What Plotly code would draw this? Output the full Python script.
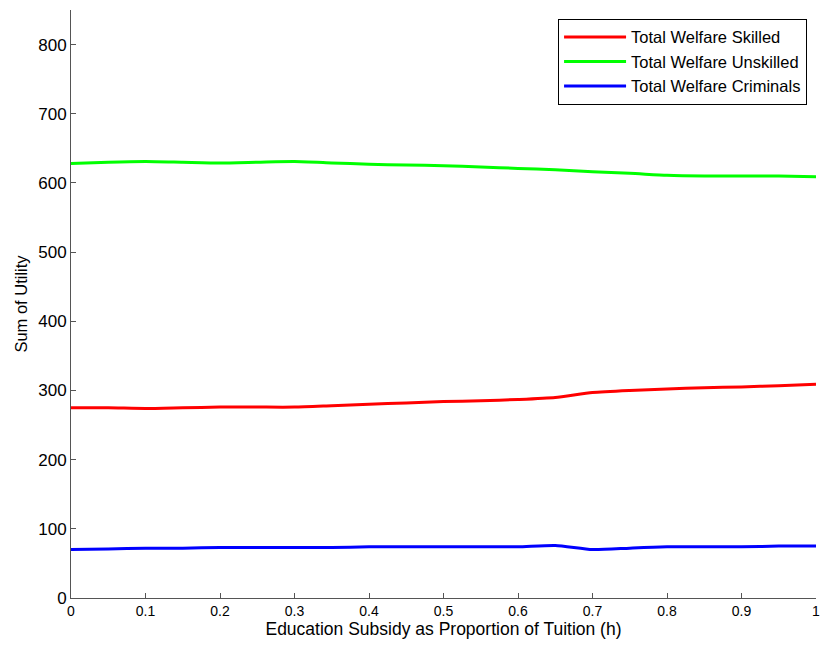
import plotly.graph_objects as go

h = [0.0, 0.05, 0.1, 0.15, 0.2, 0.25, 0.3, 0.35, 0.4, 0.45, 0.5,
     0.55, 0.6, 0.65, 0.7, 0.75, 0.8, 0.85, 0.9, 0.95, 1.0]
skilled = [275, 275, 274, 275, 276, 276, 276, 278, 280, 282, 284,
           285, 287, 290, 297, 300, 302, 304, 305, 307, 309]
unskilled = [628, 630, 631, 630, 629, 630, 631, 629, 627, 626, 625,
             623, 621, 619, 616, 614, 611, 610, 610, 610, 609]
criminals = [70, 71, 72, 72, 73, 73, 73, 73, 74, 74, 74,
             74, 74, 76, 70, 72, 74, 74, 74, 75, 75]

x_ticks = [0, 0.1, 0.2, 0.3, 0.4, 0.5, 0.6, 0.7, 0.8, 0.9, 1]
x_labels = ["0", "0.1", "0.2", "0.3", "0.4", "0.5", "0.6", "0.7", "0.8", "0.9", "1"]
y_ticks = [0, 100, 200, 300, 400, 500, 600, 700, 800]

fig = go.Figure()
fig.add_trace(go.Scatter(x=h, y=skilled, mode="lines", name="Total Welfare Skilled",
                         line=dict(color="#ff0000", width=3, shape="spline", smoothing=0.6)))
fig.add_trace(go.Scatter(x=h, y=unskilled, mode="lines", name="Total Welfare Unskilled",
                         line=dict(color="#00ff00", width=3, shape="spline", smoothing=0.6)))
fig.add_trace(go.Scatter(x=h, y=criminals, mode="lines", name="Total Welfare Criminals",
                         line=dict(color="#0000ff", width=3, shape="spline", smoothing=0.6)))

fam = "Liberation Sans, Arial, sans-serif"
fig.update_layout(
    width=820, height=646,
    margin=dict(l=71, r=4, t=10, b=48),
    paper_bgcolor="white", plot_bgcolor="white",
    font=dict(family=fam, size=13, color="black"),
    showlegend=True,
    legend=dict(x=0.988, y=0.985, xanchor="right", yanchor="top",
                bordercolor="black", borderwidth=1, bgcolor="white",
                font=dict(family=fam, size=16.5, color="black"),
                tracegroupgap=0, itemwidth=62),
    xaxis=dict(range=[0, 1], tickvals=x_ticks, ticktext=x_labels, automargin=False,
               ticklabeloverflow="allow",
               showgrid=False, zeroline=False, showline=True, linecolor="#555",
               linewidth=1, ticks="inside", ticklen=5, tickcolor="#555",
               tickfont=dict(family=fam, size=14, color="black"),
               title=dict(text="Education Subsidy as Proportion of Tuition (h)", standoff=2,
                          font=dict(family=fam, size=17.5, color="black"))),
    yaxis=dict(range=[0, 850], tickvals=y_ticks, automargin=False,
               showgrid=False, zeroline=False, showline=True, linecolor="#555",
               linewidth=1, ticks="inside", ticklen=5, tickcolor="#555",
               tickfont=dict(family=fam, size=17, color="black"),
               title=dict(text="Sum of Utility", standoff=6,
                          font=dict(family=fam, size=16.5, color="black"))),
)
fig.write_html("out.html")
